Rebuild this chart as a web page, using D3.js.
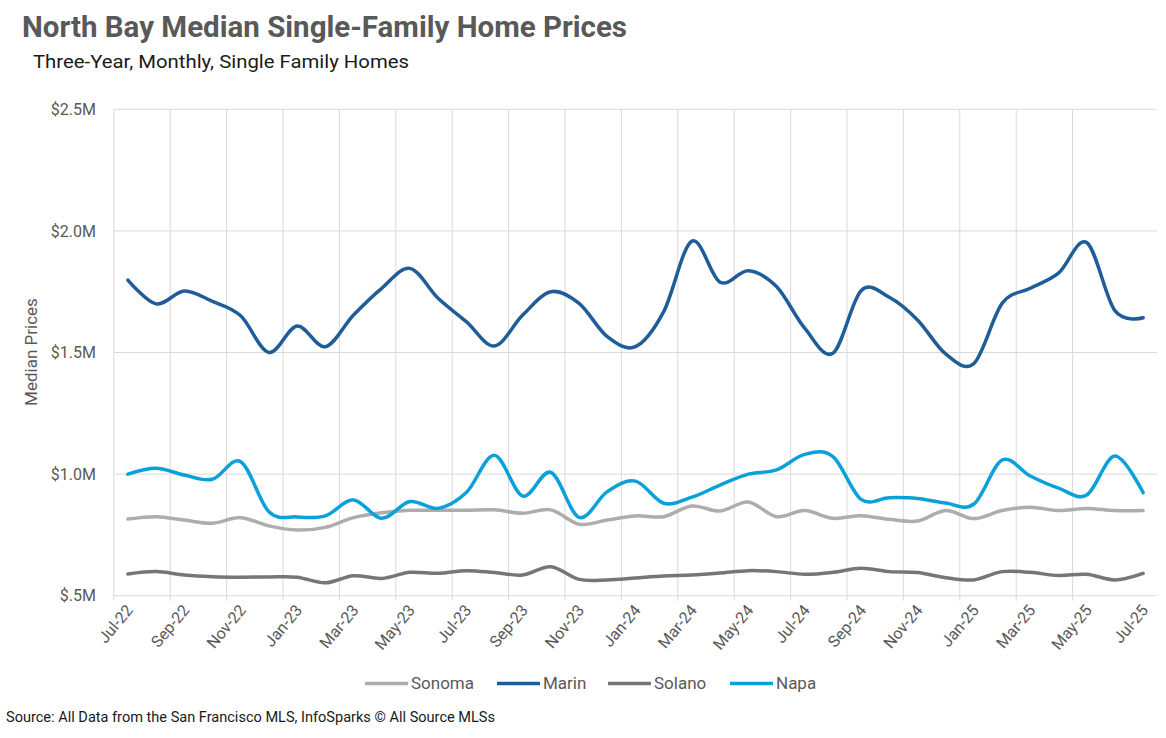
<!DOCTYPE html>
<html lang="en">
<head>
<meta charset="UTF-8">
<title>North Bay Median Single-Family Home Prices</title>
<script src="https://d3js.org/d3.v7.min.js"></script>
<style>
  body { margin: 0; background: #fff; }
  text { font-family: "Liberation Sans Narrow", "Roboto", sans-serif; }
</style>
</head>
<body>
<div id="chart"></div>
<script>

// months, Jul-22 .. Jul-25
const months = ["Jul-22","Aug-22","Sep-22","Oct-22","Nov-22","Dec-22","Jan-23","Feb-23","Mar-23","Apr-23","May-23","Jun-23",
  "Jul-23","Aug-23","Sep-23","Oct-23","Nov-23","Dec-23","Jan-24","Feb-24","Mar-24","Apr-24","May-24","Jun-24",
  "Jul-24","Aug-24","Sep-24","Oct-24","Nov-24","Dec-24","Jan-25","Feb-25","Mar-25","Apr-25","May-25","Jun-25","Jul-25"];

// median prices, $ thousands
const sonoma = [815,825,811,798,821,787,770,781,821,841,851,851,851,853,839,853,794,811,828,825,869,848,885,825,850,818,829,814,807,850,817,850,864,850,859,850,850];
const marin  = [1798,1700,1753,1710,1651,1500,1609,1524,1654,1764,1846,1723,1627,1527,1654,1750,1702,1565,1524,1668,1958,1789,1836,1771,1600,1497,1754,1727,1634,1494,1455,1702,1764,1826,1952,1672,1643];
const solano = [589,599,585,578,576,577,576,553,582,571,596,592,603,595,585,619,567,565,573,581,585,593,603,599,588,596,613,599,595,574,565,599,596,583,588,565,592];
const napa   = [1000,1024,996,979,1051,845,824,828,894,818,887,859,924,1077,910,1007,822,928,971,880,905,955,1000,1017,1081,1072,896,903,900,881,877,1058,992,942,914,1074,924];

const seriesNames = ["Sonoma", "Marin", "Solano", "Napa"];
const seriesColors = ["#ADADAD", "#1F5D99", "#767676", "#0AA0DA"];
const yTicks = [500, 1000, 1500, 2000, 2500];

const W = 1166, H = 738;
const plotL = 113.8, plotR = 1157.2, plotT = 109.3, plotB = 595.7;

const svg = d3.select("#chart").append("svg")
    .attr("width", W).attr("height", H)
    .style("display", "block");

const x = d3.scaleBand().domain(months).range([plotL, plotR]).padding(0);
const y = d3.scaleLinear().domain([500, 2500]).range([plotB, plotT]);
const cx = m => x(m) + x.bandwidth() / 2;

// gridlines
const grid = svg.append("g").attr("stroke", "#D9D9D9").attr("stroke-width", 1);
grid.selectAll("line.h").data(yTicks).join("line")
    .attr("x1", plotL).attr("x2", plotR)
    .attr("y1", d => y(d)).attr("y2", d => y(d));
const vMonths = months.filter((m, i) => i % 2 === 0 && i < months.length - 1);
grid.selectAll("line.v").data(vMonths).join("line")
    .attr("x1", d => x(d)).attr("x2", d => x(d))
    .attr("y1", plotT).attr("y2", plotB + 5);

// y axis labels
const fmt = d => "$" + (d / 1000).toFixed(1).replace(/^0/, "") + "M";
svg.append("g").selectAll("text").data(yTicks).join("text")
    .attr("x", 96).attr("y", d => y(d))
    .attr("dy", "0.35em")
    .attr("text-anchor", "end")
    .attr("font-size", 16)
    .attr("fill", "#595959")
    .text(fmt);

svg.append("text")
    .attr("transform", "translate(37,352) rotate(-90)")
    .attr("text-anchor", "middle")
    .attr("font-size", 17)
    .attr("fill", "#595959")
    .text("Median Prices");

// x labels (every other month)
svg.append("g").selectAll("text").data(months.filter((m, i) => i % 2 === 0)).join("text")
    .attr("transform", d => `translate(${cx(d) + 6},${plotB + 15}) rotate(-50)`)
    .attr("text-anchor", "end")
    .attr("font-size", 16)
    .attr("fill", "#595959")
    .text(d => d);

// lines
const allSeries = [sonoma, marin, solano, napa];
const line = d3.line()
    .x((d, i) => cx(months[i]))
    .y(d => y(d))
    .curve(d3.curveCardinal.tension(0));

svg.append("g").selectAll("path").data(allSeries).join("path")
    .attr("d", d => line(d))
    .attr("fill", "none")
    .attr("stroke", (d, i) => seriesColors[i])
    .attr("stroke-width", 3.5)
    .attr("stroke-linejoin", "round")
    .attr("stroke-linecap", "round");

// legend
const legendX = [365, 497, 608, 730];
const lg = svg.append("g").selectAll("g").data(seriesNames).join("g")
    .attr("transform", (d, i) => `translate(${legendX[i]},683.5)`);
lg.append("line")
    .attr("x1", 0).attr("x2", 43)
    .attr("stroke", (d, i) => seriesColors[i])
    .attr("stroke-width", 3.5);
lg.append("text")
    .attr("x", 46).attr("dy", "0.35em")
    .attr("font-size", 17)
    .attr("fill", "#595959")
    .text(d => d);

// titles
svg.append("text")
    .attr("x", 22).attr("y", 37)
    .attr("font-size", 30).attr("font-weight", "bold")
    .attr("fill", "#595959")
    .attr("textLength", 605).attr("lengthAdjust", "spacingAndGlyphs")
    .text("North Bay Median Single-Family Home Prices");

svg.append("text")
    .attr("x", 33).attr("y", 68)
    .attr("font-size", 19)
    .attr("fill", "#1a1a1a")
    .attr("textLength", 376).attr("lengthAdjust", "spacingAndGlyphs")
    .text("Three-Year, Monthly, Single Family Homes");

svg.append("text")
    .attr("x", 6).attr("y", 722)
    .attr("font-size", 15)
    .attr("fill", "#1a1a1a")
    .attr("textLength", 489).attr("lengthAdjust", "spacingAndGlyphs")
    .text("Source: All Data from the San Francisco MLS, InfoSparks \u00A9 All Source MLSs");

</script>
</body>
</html>
